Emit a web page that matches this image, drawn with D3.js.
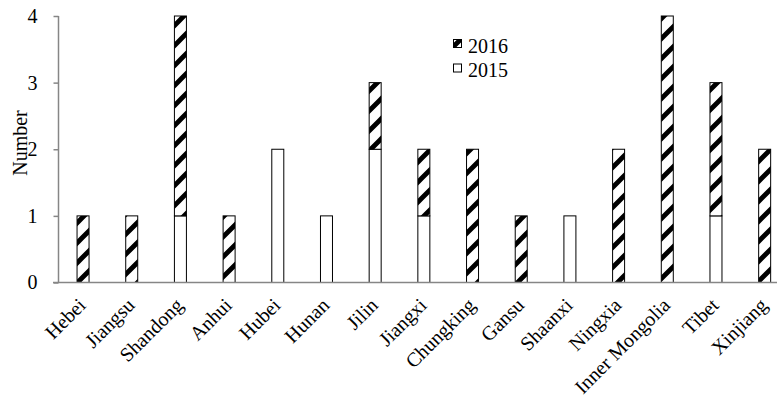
<!DOCTYPE html>
<html><head><meta charset="utf-8">
<script src="https://cdn.jsdelivr.net/npm/d3@7"></script>
<style>body{margin:0;background:#fff}svg{display:block}</style>
</head><body><svg id="c" width="777" height="403"></svg>
<script>
const categories = ["Hebei","Jiangsu","Shandong","Anhui","Hubei","Hunan","Jilin","Jiangxi","Chungking","Gansu","Shaanxi","Ningxia","Inner Mongolia","Tibet","Xinjiang"];
const values2015 = [0,0,1,0,2,1,2,1,0,0,1,0,0,1,0];
const values2016 = [1,1,3,1,0,0,1,1,2,1,0,2,4,2,2];
const yTicks = [0,1,2,3,4];
const seriesNames = ["2016","2015"];

const svg = d3.select("#c");
const font = "'Liberation Serif','Times New Roman',serif";
const defs = svg.append("defs");
const pat = defs.append("pattern").attr("id","hatch").attr("patternUnits","userSpaceOnUse")
  .attr("width",20).attr("height",20);
pat.append("rect").attr("width",20).attr("height",20).attr("fill","#fff");
pat.append("path").attr("d","M-5,5 L5,-5 M0,20 L20,0 M15,25 L25,15").attr("stroke","#000").attr("stroke-width",4.8);

const x = d3.scaleBand().domain(categories).range([58.7, 789]).paddingInner(0).paddingOuter(0);
const y = d3.scaleLinear().domain([0,4]).range([282.5,16]);
const bw = 12;

// bars
const g = svg.append("g");
categories.forEach((c,i)=>{
  const cx = x(c) + x.bandwidth()/2;
  if (values2015[i] > 0) {
    g.append("rect").attr("x",cx-bw/2).attr("y",y(values2015[i])).attr("width",bw)
      .attr("height",y(0)-y(values2015[i])).attr("fill","#fff").attr("stroke","#000").attr("stroke-width",1);
  }
  if (values2016[i] > 0) {
    const b = values2015[i], t = b + values2016[i];
    g.append("rect").attr("x",cx-bw/2).attr("y",y(t)).attr("width",bw)
      .attr("height",y(b)-y(t)).attr("fill","url(#hatch)").attr("stroke","#000").attr("stroke-width",1);
  }
});

// axes
const ya = svg.append("g").attr("transform","translate(58.5,0)")
  .call(d3.axisLeft(y).tickValues(yTicks).tickFormat(d3.format("d")).tickSize(5).tickPadding(16));
ya.select(".domain").attr("stroke","#868686").attr("stroke-width",1.5).attr("d","M0,"+y(4)+"V"+y(0));
ya.selectAll(".tick line").attr("stroke","#868686").attr("stroke-width",1.5);
ya.selectAll(".tick text").attr("font-family",font).attr("font-size",20).attr("fill","#000");

svg.append("line").attr("x1",53).attr("x2",777).attr("y1",y(0)).attr("y2",y(0))
  .attr("stroke","#868686").attr("stroke-width",1.5);

// x labels
categories.forEach(c=>{
  const cx = x(c) + x.bandwidth()/2;
  svg.append("text").attr("transform",`translate(${cx+4},${y(0)+24}) rotate(-45)`)
    .attr("text-anchor","end")
    .attr("font-family",font).attr("font-size",20).attr("fill","#000").text(c);
});

// y label
svg.append("text").attr("transform","translate(20,143) rotate(-90)").attr("text-anchor","middle")
  .attr("dy","0.35em").attr("font-family",font).attr("font-size",20).text("Number");

// legend
const leg = svg.append("g");
seriesNames.forEach((s,i)=>{
  const yy = 39 + i*24.5;
  leg.append("rect").attr("x",453.5).attr("y",yy+0.5).attr("width",8).attr("height",8)
    .attr("fill", s==="2016" ? "url(#hatch)" : "#fff").attr("stroke","#000").attr("stroke-width",1);
  leg.append("text").attr("x",468).attr("y",yy+13.5).attr("font-family",font).attr("font-size",20).text(s);
});
</script></body></html>
